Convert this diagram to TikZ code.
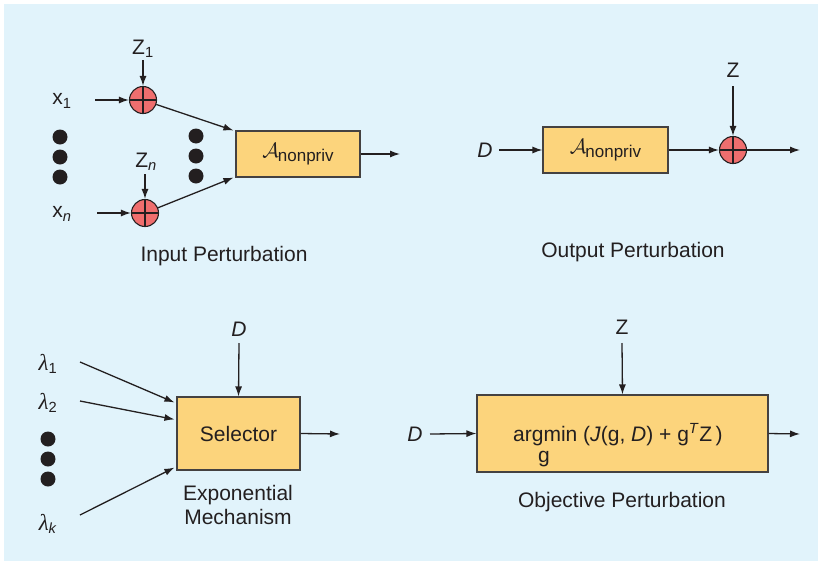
\documentclass[tikz,border=0pt]{standalone}
\usepackage{fontspec}
\setmainfont{Liberation Sans}
\newfontfamily\lamfont{Liberation Serif}
\usetikzlibrary{arrows.meta}
\definecolor{bg}{HTML}{E1F3FB}
\definecolor{boxfill}{HTML}{FCD47C}
\definecolor{sumfill}{HTML}{EF6E6E}
\definecolor{ink}{HTML}{231F20}
\newcommand{\lam}{{\lamfont\itshape\fontsize{23}{24}\selectfont λ}}
\begin{document}
\begin{tikzpicture}[x=1pt,y=-1pt,
  font=\fontsize{21}{24}\selectfont,
  every node/.style={text=ink},
  arr/.style={draw=ink, line width=1.3pt, -{Latex[length=10pt,width=7pt]}},
  ln/.style={draw=ink, line width=1.2pt},
  blk/.style={draw=ink!85, line width=1.1pt, fill=boxfill, inner sep=0pt},
  sumc/.style={circle, draw=ink, fill=sumfill, minimum size=27pt, inner sep=0pt, line width=1.1pt},
  dot/.style={circle, fill=ink, minimum size=15pt, inner sep=0pt},
  lbl/.style={inner sep=1pt}]
\fill[white] (0,0) rectangle (822,565);
\fill[bg] (4,4) rectangle (818,561);
\useasboundingbox (0,0) rectangle (822,565);

% ---------- Input perturbation ----------
\node[lbl] (x1) at (62,101) {x\textsubscript{1}};
\node[lbl] (xn) at (62,214) {x\textsubscript{\textit{n}}};
\node[lbl] (z1) at (143,49) {Z\textsubscript{1}};
\node[lbl] (zn) at (146,162) {Z\textsubscript{\textit{n}}};
\node[sumc] (s1) at (143,100) {};
\node[sumc] (sn) at (145,213) {};
\draw[ln] (s1.north) -- (s1.south) (s1.west) -- (s1.east);
\draw[ln] (sn.north) -- (sn.south) (sn.west) -- (sn.east);
\foreach \i/\y in {1/137,2/157,3/177} \node[dot] (la\i) at (60,\y) {};
\foreach \i/\y in {1/136,2/156,3/176} \node[dot] (lb\i) at (196,\y) {};
\node[blk, minimum width=124pt, minimum height=46pt] (A1) at (298,154)
  {$\mathcal{A}$\kern-1pt\raisebox{-4pt}{\fontsize{17}{17}\selectfont nonpriv}};
\coordinate (x1s) at (95,100);
\coordinate (xns) at (97,213);
\coordinate (z1s) at (143,60);
\coordinate (zns) at (145,174);
\coordinate (A1o) at (400,154);
\draw[arr] (x1s) -- (s1);
\draw[arr] (xns) -- (sn);
\draw[arr] (z1s) -- (s1);
\draw[arr] (zns) -- (sn);
\draw[arr] (s1) -- ([xshift=-2pt]A1.north west);
\draw[arr] (sn) -- ([xshift=-2pt]A1.south west);
\draw[arr] (A1.east) -- (A1o);
\node (t1) at (224,256) {Input Perturbation};

% ---------- Output perturbation ----------
\node[lbl] (d2) at (485,150) {\textit{D}};
\node[blk, minimum width=125pt, minimum height=46pt] (A2) at (605.5,150)
  {$\mathcal{A}$\kern-1pt\raisebox{-4pt}{\fontsize{17}{17}\selectfont nonpriv}};
\node[sumc] (s2) at (733,150) {};
\draw[ln] (s2.north) -- (s2.south) (s2.west) -- (s2.east);
\node[lbl] (z2) at (733,70) {Z};
\coordinate (d2s) at (499,150);
\coordinate (z2s) at (733,86);
\coordinate (s2o) at (800,150);
\draw[arr] (d2s) -- (A2.west);
\draw[arr] (A2.east) -- (s2);
\draw[arr] (z2s) -- (s2);
\draw[arr] (s2) -- (s2o);
\node (t2) at (633,252) {Output Perturbation};

% ---------- Exponential mechanism ----------
\node[lbl] (d3) at (239,329) {\textit{D}};
\node[blk, minimum width=123pt, minimum height=73pt] (sel) at (238.5,433.5) {Selector};
\node[lbl] (l1) at (48,364) {\lam\textsubscript{1}};
\node[lbl] (l2) at (48,403) {\lam\textsubscript{2}};
\node[lbl] (lk) at (48,524) {\lam\textsubscript{\textit{k}}};
\foreach \i/\y in {1/439,2/459,3/479} \node[dot] (lc\i) at (48,\y) {};
\coordinate (d3s) at (239,343);
\coordinate (l1s) at (80,362);
\coordinate (l2s) at (80,401);
\coordinate (lks) at (80,515);
\coordinate (selo) at (340,434);
\draw[arr] (d3s) -- (sel.north);
\draw[arr] (l1s) -- ([xshift=-2pt,yshift=-6pt]sel.north west);
\draw[arr] (l2s) -- ([xshift=-2pt,yshift=-23pt]sel.north west);
\draw[arr] (lks) -- ([xshift=-2pt,yshift=3pt]sel.south west);
\draw[arr] (sel.east) -- (selo);
\node[align=center, font=\fontsize{21}{24}\selectfont] (t3) at (238,505) {Exponential\\Mechanism};

% ---------- Objective perturbation ----------
\node[lbl] (z4) at (622,327) {Z};
\node[lbl] (d4) at (415,434) {\textit{D}};
\node[blk, minimum width=291pt, minimum height=77pt] (obj) at (622.5,433.5) {};
\node[inner sep=0pt, anchor=base west] (argt) at (513,441)
  {argmin (\textit{J}(g, \textit{D}) + g\textsuperscript{\textit{T}}Z\,)};
\node[inner sep=0pt, anchor=base] (argg) at (544,462) {g};
\coordinate (z4s) at (622,343);
\coordinate (d4s) at (430,434);
\coordinate (objo) at (800,434);
\draw[arr] (z4s) -- (obj.north);
\draw[arr] (d4s) -- (obj.west);
\draw[arr] (obj.east) -- (objo);
\node (t4) at (622,502) {Objective Perturbation};
\end{tikzpicture}
\end{document}
